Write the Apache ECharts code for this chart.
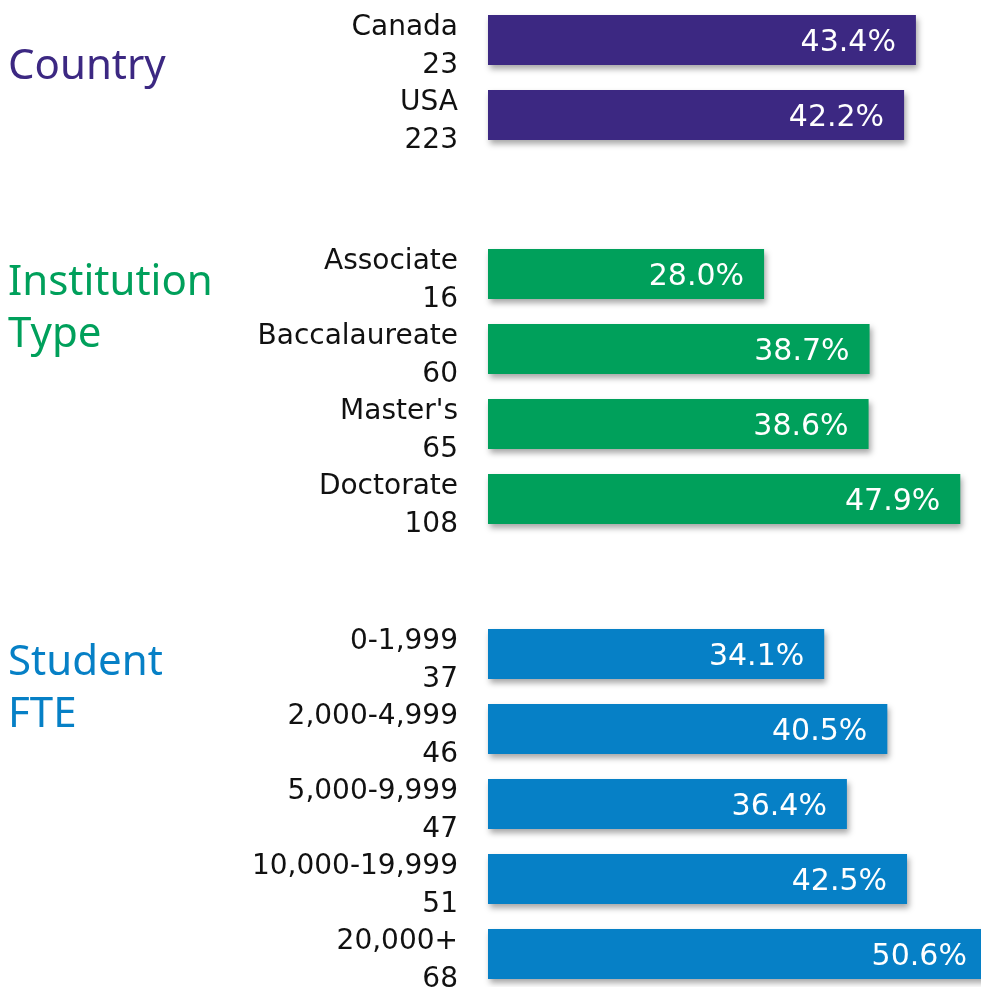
<!DOCTYPE html>
<html>
<head>
<meta charset="utf-8">
<style>
html, body { margin: 0; padding: 0; background: #fff; }
#main { width: 981px; height: 987px; }
</style>
<script src="https://cdn.jsdelivr.net/npm/echarts@6/dist/echarts.min.js"></script>
</head>
<body>
<div id="main"></div>
<script>
// data
var countryNames = ['Canada', 'USA'];
var countryN = [23, 223];
var countryPct = [43.4, 42.2];

var instNames = ['Associate', 'Baccalaureate', "Master's", 'Doctorate'];
var instN = [16, 60, 65, 108];
var instPct = [28.0, 38.7, 38.6, 47.9];

var fteNames = ['0-1,999', '2,000-4,999', '5,000-9,999', '10,000-19,999', '20,000+'];
var fteN = [37, 46, 47, 51, 68];
var ftePct = [34.1, 40.5, 36.4, 42.5, 50.6];

var purple = '#3C2882';
var green = '#00A05B';
var blue = '#0680C6';

function cats(names, counts) {
    return names.map(function (n, i) { return n + '\n' + counts[i]; });
}

// 三个分组，每组一个 grid
var groups = [
    { cats: cats(countryNames, countryN), vals: countryPct, color: purple, top: 2.5 },
    { cats: cats(instNames, instN), vals: instPct, color: green, top: 236.5 },
    { cats: cats(fteNames, fteN), vals: ftePct, color: blue, top: 616.5 }
];

var grid = [], xAxis = [], yAxis = [], series = [];
groups.forEach(function (g, i) {
    grid.push({
        left: 488, right: 0, top: g.top, height: g.cats.length * 75,
        containLabel: false, outerBoundsMode: 'none'
    });
    xAxis.push({
        gridIndex: i, type: 'value', min: 0, max: 50,
        show: false
    });
    yAxis.push({
        gridIndex: i, type: 'category', inverse: true, data: g.cats,
        axisLine: { show: false }, axisTick: { show: false },
        axisLabel: {
            interval: 0, showMinLabel: true, showMaxLabel: true, hideOverlap: false,
            margin: 30, color: '#111', fontSize: 28, lineHeight: 38,
            fontFamily: 'DejaVu Sans', align: 'right',
            // 顶部加一行空白，让两行文字略微下移
            formatter: function (v) { return '{s| }\n' + v; },
            rich: { s: { fontSize: 1, lineHeight: 14 } }
        }
    });
    series.push({
        type: 'bar', xAxisIndex: i, yAxisIndex: i, data: g.vals,
        barWidth: 50, clip: false, silent: true,
        itemStyle: {
            color: g.color,
            shadowColor: 'rgba(0,0,0,0.35)', shadowBlur: 6,
            shadowOffsetX: 2, shadowOffsetY: 4
        },
        label: {
            show: true, position: 'insideRight', distance: 20, offset: [0, 3],
            color: '#fff', fontSize: 30, fontFamily: 'DejaVu Sans',
            formatter: function (p) { return p.value.toFixed(1) + '%'; }
        }
    });
});

var myChart = echarts.init(document.getElementById('main'));
myChart.setOption({
    animation: false,
    grid: grid,
    xAxis: xAxis,
    yAxis: yAxis,
    series: series,
    graphic: [
        { type: 'text', left: 8, top: 46, style: { text: 'Country', fill: purple, fontSize: 42, fontFamily: 'Noto Sans' } },
        { type: 'text', left: 8, top: 257, style: { text: 'Institution\nType', fill: green, fontSize: 42, lineHeight: 52, fontFamily: 'Noto Sans' } },
        { type: 'text', left: 8, top: 637, style: { text: 'Student\nFTE', fill: blue, fontSize: 42, lineHeight: 52, fontFamily: 'Noto Sans' } }
    ]
});
</script>
</body>
</html>
